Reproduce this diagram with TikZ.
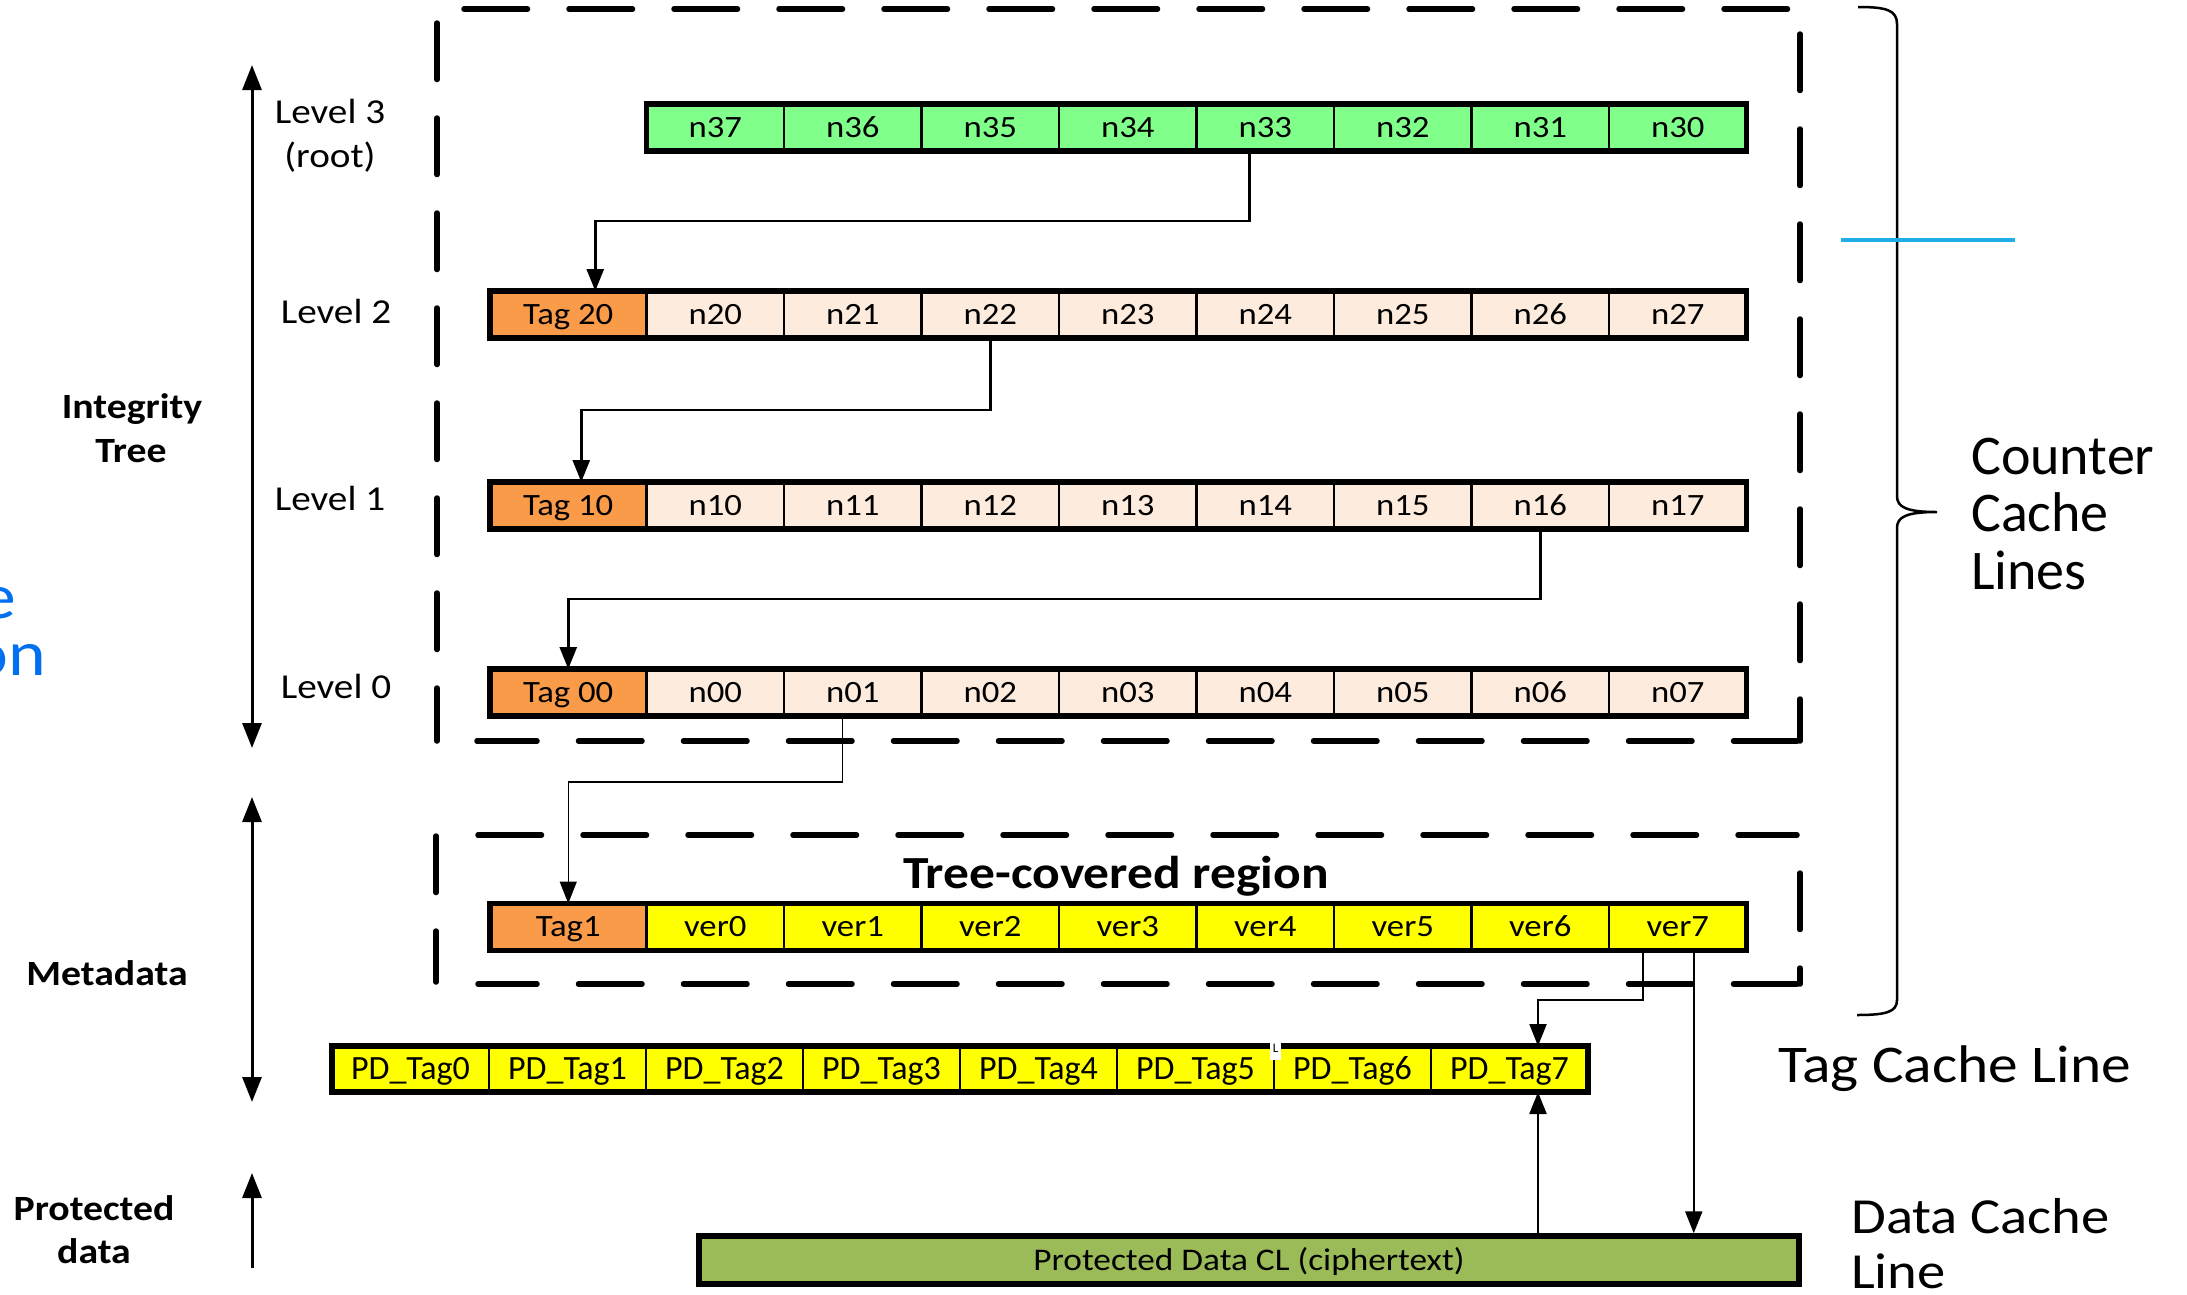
\documentclass[tikz,border=0pt]{standalone}
\usepackage{fontspec}
\setmainfont{Carlito}[FakeStretch=1.12]
\newfontfamily\plainfont{Carlito}
\usetikzlibrary{arrows.meta}

\definecolor{rootgreen}{RGB}{128,255,138}
\definecolor{peach}{RGB}{253,236,222}
\definecolor{tagorange}{RGB}{249,155,72}
\definecolor{veryellow}{RGB}{255,255,0}
\definecolor{datagreen}{RGB}{155,187,89}
\definecolor{sideblue}{RGB}{0,112,240}
\definecolor{lineblue}{RGB}{28,174,228}

\newcommand{\setfs}[1]{\fontsize{#1}{#1}\selectfont}

\begin{document}
\begin{tikzpicture}[x=1pt,y=-1pt,
  cell/.style={draw=black, line width=2.5pt, minimum height=47pt, inner sep=0pt,
    outer sep=0pt, text height=19.8pt, text depth=0pt, font=\setfs{31}},
  ncell/.style={cell, minimum width=137.5pt, fill=peach},
  rcell/.style={cell, minimum width=137.5pt, fill=rootgreen},
  tagcell/.style={cell, minimum width=156.5pt, fill=tagorange},
  vcell/.style={cell, minimum width=137.5pt, fill=veryellow},
  pdcell/.style={cell, minimum width=157pt, minimum height=46pt, fill=veryellow,
    font=\plainfont\setfs{34}, text height=21.5pt},
  rowframe/.style={draw=black, line width=5.5pt},
  tip/.style={-{Triangle[length=22pt,width=17pt]}},
  link/.style={draw=black, line width=2.7pt, tip},
  thinlink/.style={draw=black, line width=1.4pt, tip},
  buslink/.style={draw=black, line width=2.2pt, tip},
  axis/.style={draw=black, line width=3pt},
  hdash/.style={line width=5.5pt, line cap=round, dash pattern=on 63.5pt off 41.5pt},
  vdash/.style={line width=5.5pt, line cap=round, dash pattern=on 56.5pt off 38.5pt},
  lvl/.style={font=\setfs{35}, inner sep=0pt, anchor=base},
  side/.style={font=\bfseries\setfs{35.5}, inner sep=0pt, anchor=base},
  cachelbl/.style={font=\setfs{53}, inner sep=0pt, anchor=base west},
]
\fill[white] (0,0) rectangle (2187,1294);
\useasboundingbox (0,0) rectangle (2187,1294);

% ---- dashed frames: counter cache lines and tree-covered region
\draw[hdash] (464,9) -- (1791,9);
\draw[vdash] (437,23) -- (437,741);
\draw[vdash] (1800,34) -- (1800,741);
\draw[hdash] (1797,741) -- (477,741);
\draw[hdash] (478,835) -- (1797,835);
\draw[vdash] (436,836) -- (436,982);
\draw[vdash] (1800,873) -- (1800,984);
\draw[hdash] (1797,984) -- (478,984);

% ---- level 3 (root)
\foreach \i/\t in {1/n37,2/n36,3/n35,4/n34,5/n33,6/n32,7/n31,8/n30}
  \node[rcell] (L3-\i) at ({646.5+(\i-0.5)*137.5},127.5) {\t};
\draw[rowframe] (L3-1.north west) rectangle (L3-8.south east);

% ---- level 2
\node[tagcell] (L2-0) at (568.25,314.5) {Tag 20};
\foreach \i/\t in {1/n20,2/n21,3/n22,4/n23,5/n24,6/n25,7/n26,8/n27}
  \node[ncell] (L2-\i) at ({646.5+(\i-0.5)*137.5},314.5) {\t};
\draw[rowframe] (L2-0.north west) rectangle (L2-8.south east);

% ---- level 1
\node[tagcell] (L1-0) at (568.25,505.5) {Tag 10};
\foreach \i/\t in {1/n10,2/n11,3/n12,4/n13,5/n14,6/n15,7/n16,8/n17}
  \node[ncell] (L1-\i) at ({646.5+(\i-0.5)*137.5},505.5) {\t};
\draw[rowframe] (L1-0.north west) rectangle (L1-8.south east);

% ---- level 0
\node[tagcell] (L0-0) at (568.25,692.5) {Tag 00};
\foreach \i/\t in {1/n00,2/n01,3/n02,4/n03,5/n04,6/n05,7/n06,8/n07}
  \node[ncell] (L0-\i) at ({646.5+(\i-0.5)*137.5},692.5) {\t};
\draw[rowframe] (L0-0.north west) rectangle (L0-8.south east);

% ---- version counters
\node[tagcell] (M-0) at (568.25,927) {Tag1};
\foreach \i/\t in {1/ver0,2/ver1,3/ver2,4/ver3,5/ver4,6/ver5,7/ver6,8/ver7}
  \node[vcell] (M-\i) at ({646.5+(\i-0.5)*137.5},927) {\t};
\draw[rowframe] (M-0.north west) rectangle (M-8.south east);

% ---- tag cache line
\foreach \i/\t in {1/PD\_Tag0,2/PD\_Tag1,3/PD\_Tag2,4/PD\_Tag3,5/PD\_Tag4,6/PD\_Tag5,7/PD\_Tag6,8/PD\_Tag7}
  \node[pdcell] (PD-\i) at ({332+(\i-0.5)*157},1069) {\t};
\draw[rowframe] (PD-1.north west) rectangle (PD-8.south east);
\fill[white] (1270,1040) rectangle (1281,1060);
\node[font=\plainfont\setfs{13}, inner sep=0pt, anchor=base] (glitch) at (1275.5,1052) {L};

% ---- data cache line
\node[draw=black, line width=5.5pt, fill=datagreen, minimum width=1100pt, minimum height=48pt,
  inner sep=0pt, text height=20pt, text depth=0pt, font=\setfs{31.5}] (data) at (1249,1260)
  {Protected Data CL (ciphertext)};

% ---- tree links
\draw[link] ([xshift=-16pt]L3-5.south) -- ++(0,70) -| ([xshift=27pt]L2-0.north);
\draw[link] (L2-3.south) -- ++(0,72) -| ([xshift=13pt]L1-0.north);
\draw[link] (L1-7.south) -- ++(0,70) -| (L0-0.north);
\draw[thinlink] ([xshift=-10pt]L0-2.south) -- ++(0,66) -| (M-0.north);

% ---- tag and data links
\coordinate (pdIn) at ([xshift=28.5pt]PD-8.north);
\coordinate (pdOut) at ([xshift=28.5pt]PD-8.south);
\coordinate (v7a) at ([xshift=-35pt]M-8.south);
\coordinate (v7b) at ([xshift=16pt]M-8.south);
\draw[buslink] (v7a) -- ++(0,49.5) -| (pdIn);
\draw[buslink] (v7b) -- (v7b |- data.north);
\draw[buslink] (pdOut |- data.north) -- (pdOut);

% ---- side axes
\coordinate (itTop) at (252,65);
\coordinate (itBot) at (252,748);
\coordinate (mdTop) at (252,797);
\coordinate (mdBot) at (252,1102);
\coordinate (prTop) at (252,1173);
\coordinate (prBot) at (252,1268);
\draw[axis, {Triangle[length=25pt,width=19pt]}-{Triangle[length=25pt,width=19pt]}] (itTop) -- (itBot);
\draw[axis, {Triangle[length=25pt,width=19pt]}-{Triangle[length=25pt,width=19pt]}] (mdTop) -- (mdBot);
\draw[axis, -{Triangle[length=25pt,width=19pt]}] (prBot) -- (prTop);

% ---- brace over the cache lines
\draw[line width=2.5pt] (1858,7) .. controls (1886,7) and (1897,10) .. (1897,24)
  -- (1897,496) .. controls (1897,507) and (1906,512) .. (1937,512)
  .. controls (1906,512) and (1897,517) .. (1897,528)
  -- (1897,1000) .. controls (1897,1012) and (1886,1015) .. (1857,1015);
\draw[lineblue, line width=3.5pt] (1841,240) -- (2015,240);

% ---- labels
\node[lvl] (lv3a) at (330,123) {Level 3};
\node[lvl] (lv3b) at (330,167) {(root)};
\node[lvl] (lv2) at (336,323) {Level 2};
\node[lvl] (lv1) at (330,510) {Level 1};
\node[lvl] (lv0) at (336,698) {Level 0};
\node[side] (itA) at (132,418) {Integrity};
\node[side] (itB) at (131,462) {Tree};
\node[side] (md) at (107,985) {Metadata};
\node[side] (prA) at (94,1220) {Protected};
\node[side] (prB) at (94,1263) {data};
\node[font=\bfseries\setfs{46}, inner sep=0pt, anchor=base] (tcr) at (1116,888) {Tree-covered region};

\node[font=\plainfont\setfs{56}, inner sep=0pt, anchor=base west] (ccA) at (1971,474) {Counter};
\node[font=\plainfont\setfs{56}, inner sep=0pt, anchor=base west] (ccB) at (1971,531) {Cache};
\node[font=\plainfont\setfs{56}, inner sep=0pt, anchor=base west] (ccC) at (1971,589) {Lines};
\node[cachelbl] (tcl) at (1778,1082) {Tag Cache Line};
\node[cachelbl, font=\setfs{50.5}] (dclA) at (1851,1233) {Data Cache};
\node[cachelbl, font=\setfs{50.5}] (dclB) at (1851,1288) {Line};

\node[font=\setfs{64}, text=sideblue, inner sep=0pt, anchor=base east] (cutA) at (16,618) {e};
\node[font=\setfs{64}, text=sideblue, inner sep=0pt, anchor=base east] (cutB) at (46.5,675) {on};
\end{tikzpicture}
\end{document}
